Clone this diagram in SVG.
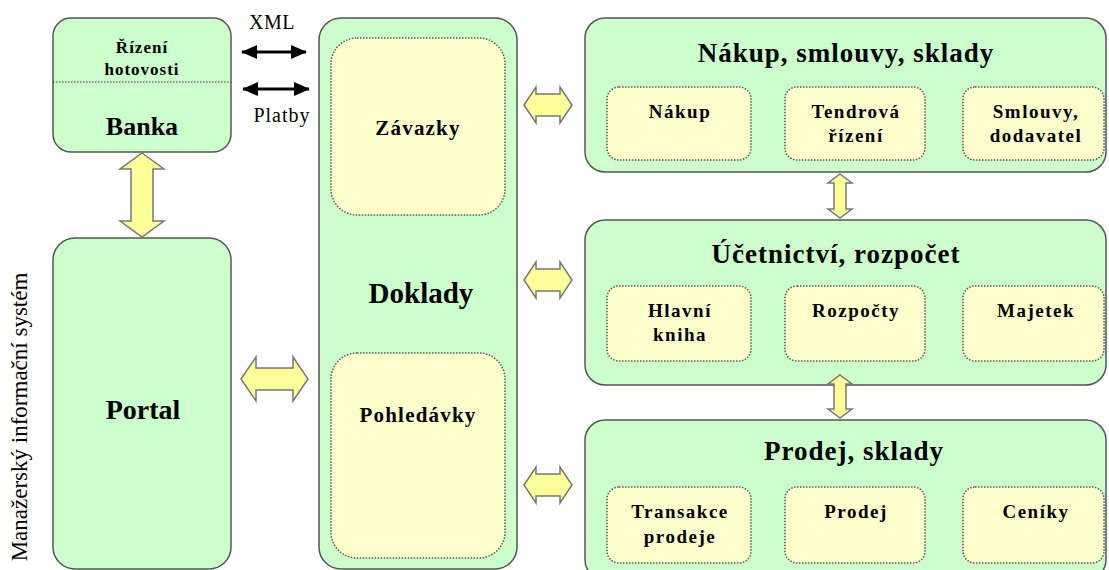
<svg xmlns="http://www.w3.org/2000/svg" width="1109" height="570" viewBox="0 0 1109 570">
  <style>
    .box { fill: #ccffcc; stroke: #555; stroke-width: 1.5; }
    .sub { fill: #ffffcc; stroke: #555; stroke-width: 1.5; stroke-dasharray: 1.5 1.5; }
    .blk { fill: #ffff99; stroke: #777; stroke-width: 1.5; stroke-linejoin: miter; }
    .t { font-family: "Liberation Serif", "Times New Roman", serif; font-weight: bold; fill: #000; text-anchor: middle; }
    .h { font-size: 27px; letter-spacing: 1px; }
    .s { font-size: 19px; letter-spacing: 1.5px; }
    .r { font-family: "Liberation Serif", "Times New Roman", serif; fill: #000; }
  </style>
  <defs>
    <marker id="ah" viewBox="0 0 16 14" refX="15" refY="7" markerWidth="16" markerHeight="14" markerUnits="userSpaceOnUse" orient="auto-start-reverse">
      <path d="M0,0 L16,7 L0,14 z" fill="#000"/>
    </marker>
  </defs>
  <rect width="1109" height="570" fill="#fff"/>

  <!-- side label -->
  <text class="r" font-size="23" transform="translate(27,417) rotate(-90)" text-anchor="middle">Manažerský informační systém</text>

  <!-- bank -->
  <g id="banka">
    <rect class="box" x="53" y="18" width="178" height="134" rx="18"/>
    <line x1="53" y1="82" x2="231" y2="82" stroke="#333" stroke-width="1" stroke-dasharray="1.5 1.5"/>
    <text class="t" x="142" y="53" font-size="17" letter-spacing="1">Řízení</text>
    <text class="t" x="142" y="75" font-size="17" letter-spacing="1">hotovosti</text>
    <text class="t" x="142" y="135" font-size="26">Banka</text>
  </g>

  <!-- portal -->
  <g id="portal">
    <rect class="box" x="53" y="238" width="178" height="331" rx="22"/>
    <text class="t" x="143" y="419" font-size="28">Portal</text>
  </g>

  <!-- documents -->
  <g id="doklady">
    <rect class="box" x="319" y="18" width="198" height="551" rx="22"/>
    <rect class="sub" x="331" y="38" width="174" height="177" rx="26"/>
    <rect class="sub" x="331" y="353" width="174" height="205" rx="26"/>
    <text class="t" x="418" y="135" font-size="21" letter-spacing="1.2">Závazky</text>
    <text class="t" x="421" y="303" font-size="29">Doklady</text>
    <text class="t" x="418" y="422" font-size="21" letter-spacing="1.2">Pohledávky</text>
  </g>

  <!-- purchasing -->
  <g id="nakup">
    <rect class="box" x="585" y="18" width="521" height="154" rx="20"/>
    <text class="t h" x="846" y="62">Nákup, smlouvy, sklady</text>
    <rect class="sub" x="607" y="87" width="144" height="73" rx="12"/>
    <rect class="sub" x="785" y="87" width="140" height="73" rx="12"/>
    <rect class="sub" x="963" y="87" width="141" height="73" rx="12"/>
    <text class="t s" x="680" y="118">Nákup</text>
    <text class="t s" x="856" y="118">Tendrová</text>
    <text class="t s" x="856" y="142">řízení</text>
    <text class="t s" x="1036" y="118">Smlouvy,</text>
    <text class="t s" x="1036" y="142">dodavatel</text>
  </g>

  <!-- accounting -->
  <g id="ucetnictvi">
    <rect class="box" x="585" y="220" width="521" height="165" rx="20"/>
    <text class="t h" x="836" y="263" letter-spacing="2.5">Účetnictví, rozpočet</text>
    <rect class="sub" x="607" y="286" width="144" height="75" rx="12"/>
    <rect class="sub" x="785" y="286" width="140" height="75" rx="12"/>
    <rect class="sub" x="963" y="286" width="141" height="75" rx="12"/>
    <text class="t s" x="680" y="317">Hlavní</text>
    <text class="t s" x="680" y="341">kniha</text>
    <text class="t s" x="856" y="317">Rozpočty</text>
    <text class="t s" x="1036" y="317">Majetek</text>
  </g>

  <!-- sales -->
  <g id="prodej">
    <rect class="box" x="585" y="420" width="521" height="160" rx="20"/>
    <text class="t h" x="854" y="460">Prodej, sklady</text>
    <rect class="sub" x="607" y="487" width="144" height="76" rx="12"/>
    <rect class="sub" x="785" y="487" width="140" height="76" rx="12"/>
    <rect class="sub" x="963" y="487" width="141" height="76" rx="12"/>
    <text class="t s" x="680" y="518">Transakce</text>
    <text class="t s" x="680" y="543">prodeje</text>
    <text class="t s" x="856" y="518">Prodej</text>
    <text class="t s" x="1036" y="518">Ceníky</text>
  </g>

  <!-- connectors -->
  <g id="connectors">
    <line x1="242" y1="52" x2="306" y2="52" stroke="#000" stroke-width="3" marker-start="url(#ah)" marker-end="url(#ah)"/>
    <line x1="243" y1="89" x2="309" y2="89" stroke="#000" stroke-width="3" marker-start="url(#ah)" marker-end="url(#ah)"/>
    <text class="r" x="272" y="29" font-size="20" letter-spacing="0.5" text-anchor="middle">XML</text>
    <text class="r" x="282" y="122" font-size="20" letter-spacing="1" text-anchor="middle">Platby</text>

    <!-- Banka <-> Portal -->
    <polygon class="blk" points="142,153 164,169 153,169 153,221 164,221 142,237 120,221 131,221 131,169 120,169"/>
    <!-- Portal <-> Doklady -->
    <polygon class="blk" points="241,379 256,357 256,368 293,368 293,357 308,379 293,401 293,390 256,390 256,401"/>
    <!-- Doklady <-> right modules -->
    <polygon class="blk" points="524,105 536,87 536,94 560,94 560,87 572,105 560,123 560,116 536,116 536,123"/>
    <polygon class="blk" points="524,280 536,262 536,269 560,269 560,262 572,280 560,298 560,291 536,291 536,298"/>
    <polygon class="blk" points="524,485 536,467 536,474 560,474 560,467 572,485 560,503 560,496 536,496 536,503"/>
    <!-- between modules -->
    <polygon class="blk" points="840,174 852,183 846,183 846,209 852,209 840,218 828,209 834,209 834,183 828,183"/>
    <polygon class="blk" points="840,375 852,384 846,384 846,409 852,409 840,418 828,409 834,409 834,384 828,384"/>
  </g>
</svg>
